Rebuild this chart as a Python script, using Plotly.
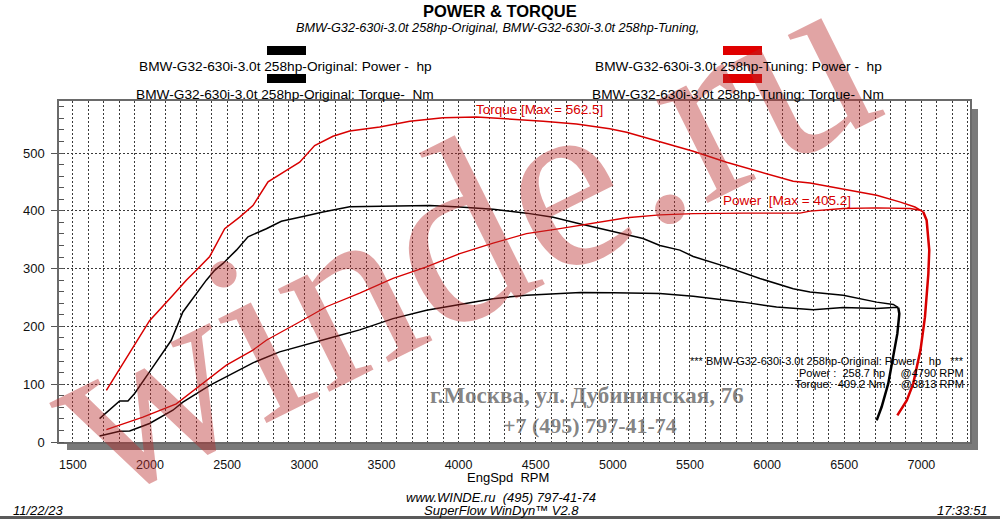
import plotly.graph_objects as go

# ---------------- data ----------------
orig_torque_rpm = [1673, 1803, 1857, 1900, 2019, 2138, 2213, 2300, 2365, 2419, 2473, 2560, 2635, 2754,
                   2851, 2992, 3121, 3294, 3575, 3813, 4008, 4224, 4440, 4613, 4764, 4980, 5196, 5305,
                   5434, 5521, 5737, 5953, 6169, 6278, 6493, 6710, 6818, 6850]
orig_torque_nm = [40.5, 71, 71, 84, 130, 176, 225, 257, 280, 297, 309, 332, 355, 369,
                  382, 390, 398, 407, 408, 409.2, 406.5, 402.5, 396, 389, 379, 365, 352, 340,
                  332, 321, 303, 283, 265, 259.5, 254, 242, 238, 232.5]
orig_torque_drop_rpm = [6850, 6857, 6844, 6818, 6785, 6742, 6710]
orig_torque_drop_nm = [232.5, 222, 187.5, 147, 101, 60.5, 37.5]

orig_power_rpm = [1673, 1803, 1868, 1997, 2148, 2213, 2387, 2538, 2667, 2840, 3035, 3208, 3359, 3575,
                  3792, 4008, 4224, 4440, 4656, 4790, 5002, 5305, 5521, 5845, 6061, 6299, 6493, 6710, 6818, 6850]
orig_power_hp = [10.4, 18.5, 19, 32, 55, 69, 98, 119, 137, 156, 171, 183, 194, 213.5,
                 228, 238, 248, 254, 257.5, 258.7, 258.3, 257, 252, 242, 233.5, 229, 232.5, 231, 232.5, 232.5]

tune_torque_rpm = [1717, 1846, 1997, 2148, 2235, 2300, 2387, 2484, 2581, 2667, 2765, 2884, 2970, 3067,
                   3186, 3294, 3359, 3489, 3684, 3900, 4116, 4332, 4548, 4764, 4980, 5089, 5196, 5305,
                   5434, 5521, 5737, 5953, 6169, 6278, 6493, 6710, 6864, 6958, 7012]
tune_torque_nm = [89.4, 144, 210, 254, 280, 297, 321, 369, 389, 409, 450, 470, 484, 513,
                  529, 538, 540, 545, 555, 561, 562.5, 559, 555, 550, 542, 536, 528, 520,
                  510, 503, 484, 467, 451, 448, 438, 427, 415, 406.5, 398]

tune_power_rpm = [1717, 1954, 2170, 2387, 2495, 2667, 2754, 2992, 3143, 3359, 3575, 3792, 4008, 4224,
                  4440, 4656, 4872, 5089, 5305, 5521, 5845, 6213, 6278, 6493, 6710, 6926, 6991, 7012]
tune_power_hp = [21.4, 43, 66, 110, 133, 159, 176, 211, 234, 257.5, 283, 303, 326, 344,
                 360.5, 369, 379, 388, 393, 395, 396, 396, 399.6, 404, 405.2, 404, 401, 398]
tune_drop_rpm = [7012, 7034, 7051, 7045, 7023, 6994, 6947, 6905, 6844]
tune_drop_val = [398, 383.5, 332, 291, 216, 159, 101, 72, 46]

x_ticks = [1500, 2000, 2500, 3000, 3500, 4000, 4500, 5000, 5500, 6000, 6500, 7000]
y_ticks = [0, 100, 200, 300, 400, 500]

orig_name = "BMW-G32-630i-3.0t 258hp-Original"
tune_name = "BMW-G32-630i-3.0t 258hp-Tuning"
max_torque_label = "Torque [Max = 562.5]"
max_power_label = "Power\u00a0 [Max = 405.2]"

# ---------------- layout geometry ----------------
W, H = 1000, 519
L, R, T, B = 59, 30, 101, 77
PW, PH = W - L - R, H - T - B


def px(x):
    return (x - L) / PW


def py(y):
    return (H - B - y) / PH


BLACK = "#000000"
RED = "#d80000"
SANS = "Liberation Sans, Arial, sans-serif"
SERIF = "Liberation Serif, Times New Roman, serif"

fig = go.Figure()
fig.add_trace(go.Scatter(x=orig_power_rpm, y=orig_power_hp, mode="lines",
                         line=dict(color=BLACK, width=1.5), name=orig_name + ": Power"))
fig.add_trace(go.Scatter(x=orig_torque_rpm, y=orig_torque_nm, mode="lines",
                         line=dict(color=BLACK, width=1.5), name=orig_name + ": Torque"))
fig.add_trace(go.Scatter(x=orig_torque_drop_rpm, y=orig_torque_drop_nm, mode="lines",
                         line=dict(color=BLACK, width=2.5), showlegend=False))
fig.add_trace(go.Scatter(x=tune_power_rpm, y=tune_power_hp, mode="lines",
                         line=dict(color=RED, width=1.3), name=tune_name + ": Power"))
fig.add_trace(go.Scatter(x=tune_torque_rpm, y=tune_torque_nm, mode="lines",
                         line=dict(color=RED, width=1.5), name=tune_name + ": Torque"))
fig.add_trace(go.Scatter(x=tune_drop_rpm, y=tune_drop_val, mode="lines",
                         line=dict(color=RED, width=2.5), showlegend=False))

GRID = "#3a3a3a"
fig.update_xaxes(range=[1410, 7315], tickvals=x_ticks, ticktext=[str(v) for v in x_ticks],
                 showgrid=True, gridcolor=GRID, griddash="2px,2px", gridwidth=1,
                 minor=dict(dtick=100, tick0=1500, showgrid=True, gridcolor=GRID, griddash="2px,2px", gridwidth=1),
                 showline=True, linecolor="#6a6a6a", linewidth=1.5, mirror=True,
                 ticks="", ticklabelstandoff=10, zeroline=False,
                 tickfont=dict(family=SANS, size=12.5, color="#111"))
fig.update_yaxes(range=[0, 590], tickvals=y_ticks, ticktext=[str(v) for v in y_ticks],
                 showgrid=True, gridcolor=GRID, griddash="2px,2px", gridwidth=1,
                 minor=dict(dtick=20, ticks="inside", ticklen=5, tickcolor="#555", showgrid=False),
                 showline=True, linecolor="#6a6a6a", linewidth=1.5, mirror=True,
                 ticks="outside", ticklen=6, tickcolor="#555", zeroline=False, ticklabelstandoff=4,
                 tickfont=dict(family=SANS, size=13, color="#111"))

shapes = [
    # drop shadow of the plot box
    dict(type="rect", xref="paper", yref="paper", x0=px(970.5), x1=px(978), y0=py(450), y1=py(109),
         fillcolor="#7a7a7a", line=dict(width=0), layer="below"),
    dict(type="rect", xref="paper", yref="paper", x0=px(67), x1=px(978), y0=py(450), y1=py(443),
         fillcolor="#7a7a7a", line=dict(width=0), layer="below"),
    # legend swatches
    dict(type="rect", xref="paper", yref="paper", x0=px(267), x1=px(306), y0=py(55), y1=py(46),
         fillcolor=BLACK, line=dict(width=0)),
    dict(type="rect", xref="paper", yref="paper", x0=px(267), x1=px(306), y0=py(83), y1=py(74),
         fillcolor=BLACK, line=dict(width=0)),
    dict(type="rect", xref="paper", yref="paper", x0=px(723), x1=px(762), y0=py(55), y1=py(46),
         fillcolor="#e00000", line=dict(width=0)),
    dict(type="rect", xref="paper", yref="paper", x0=px(723), x1=px(762), y0=py(83), y1=py(74),
         fillcolor="#e00000", line=dict(width=0)),
    # window bottom strip
    dict(type="rect", xref="paper", yref="paper", x0=px(0), x1=px(1000), y0=py(519), y1=py(516),
         fillcolor="#5a5a5a", line=dict(width=0)),
]


def ann(text, x, y, size, color="#000", family=SANS, xanchor="center", yanchor="middle", **kw):
    return dict(text=text, x=px(x), y=py(y), xref="paper", yref="paper", showarrow=False,
                xanchor=xanchor, yanchor=yanchor, font=dict(family=family, size=size, color=color), **kw)


nb = "\u00a0"
annotations = [
    # watermark (drawn first so other texts sit on top of it)
    ann("winde.ru", 457, 233, 250, color="rgba(185,45,45,0.43)", family=SERIF, textangle=-26.5),
    ann("<b>POWER & TORQUE</b>", 500, 11, 16.5),
    ann("<i>" + orig_name + ", " + tune_name + ",</i>", 497, 28, 12.7),
    ann(orig_name + ": Power -" + nb + " hp", 285, 66, 13.7),
    ann(orig_name + ": Torque-" + nb + " Nm", 285, 94, 13.7),
    ann(tune_name + ": Power -" + nb + " hp", 738, 66, 13.7),
    ann(tune_name + ": Torque-" + nb + " Nm", 738, 94, 13.7),
    ann(max_torque_label, 539, 109, 13.5, color=RED),
    ann(max_power_label, 787, 200, 13.5, color=RED),
    ann("***" + nb + orig_name + ": Power -" + nb + " hp" + nb * 3 + "***", 966, 361, 11,
        xanchor="right"),
    ann("Power :" + nb * 2 + "258.7 hp" + nb * 5 + "@4790 RPM", 966, 373, 11, xanchor="right"),
    ann("Torque:" + nb * 2 + "409.2 Nm" + nb * 5 + "@3813 RPM", 966, 384, 11, xanchor="right"),
    ann("<b>г.Москва, ул. Дубининская, 76</b>", 587, 395, 23, color="rgba(100,100,100,0.8)", family=SERIF),
    ann("<b>+7 (495) 797-41-74</b>", 590, 425, 22, color="rgba(100,100,100,0.8)", family=SERIF),
    ann("EngSpd" + nb * 2 + "RPM", 508, 478, 13),
    ann("<i>www.WINDE.ru" + nb * 2 + "(495) 797-41-74</i>", 501, 497, 13),
    ann("<i>SuperFlow WinDyn™ V2.8</i>", 501, 510.5, 13),
    ann("<i>11/22/23</i>", 11, 510.5, 13, xanchor="left"),
    ann("<i>17:33:51</i>", 990, 510.5, 13, xanchor="right"),
]

fig.update_layout(width=W, height=H, margin=dict(l=L, r=R, t=T, b=B, pad=0),
                  paper_bgcolor="white", plot_bgcolor="white", showlegend=False,
                  shapes=shapes, annotations=annotations)

fig.write_html("out.html", config={"displayModeBar": False},
               post_script="document.body.style.margin='0px';document.body.style.overflow='hidden';")
